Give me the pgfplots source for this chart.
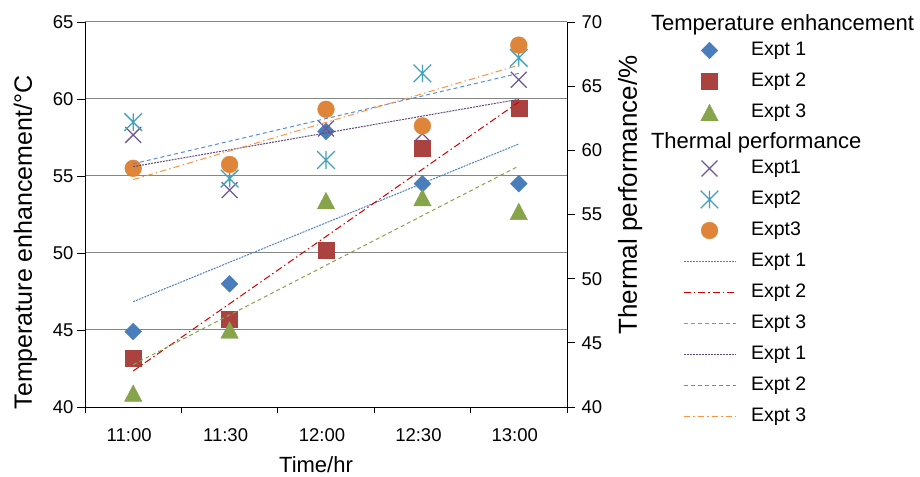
\documentclass[border=0pt]{standalone}
\usepackage{pgfplots}
\pgfplotsset{compat=1.18}
\usepackage{fontspec}
\setmainfont{Liberation Sans}

% Excel 2007 style palette
\definecolor{cdia}{RGB}{74,126,187}
\definecolor{csq}{RGB}{170,66,63}
\definecolor{ctri}{RGB}{134,164,74}
\definecolor{cx}{RGB}{112,88,148}
\definecolor{cstar}{RGB}{66,160,186}
\definecolor{ccirc}{RGB}{222,133,58}
\definecolor{ltblue}{RGB}{79,129,189}
\definecolor{ltred}{RGB}{204,0,0}
\definecolor{ltgreen}{RGB}{134,164,74}
\definecolor{ltpurple}{RGB}{96,74,123}
\definecolor{ltblue2}{RGB}{85,142,213}
\definecolor{ltorange}{RGB}{247,150,70}
\definecolor{gridgray}{RGB}{134,134,134}

% Excel-like markers
\pgfdeclareplotmark{xdiamond}{%
  \pgfpathmoveto{\pgfqpoint{0pt}{\pgfplotmarksize}}%
  \pgfpathlineto{\pgfqpoint{\pgfplotmarksize}{0pt}}%
  \pgfpathlineto{\pgfqpoint{0pt}{-\pgfplotmarksize}}%
  \pgfpathlineto{\pgfqpoint{-\pgfplotmarksize}{0pt}}%
  \pgfpathclose\pgfusepathqfillstroke}
\pgfdeclareplotmark{xtri}{%
  \pgfpathmoveto{\pgfqpoint{0pt}{.95\pgfplotmarksize}}%
  \pgfpathlineto{\pgfqpoint{\pgfplotmarksize}{-.95\pgfplotmarksize}}%
  \pgfpathlineto{\pgfqpoint{-\pgfplotmarksize}{-.95\pgfplotmarksize}}%
  \pgfpathclose\pgfusepathqfillstroke}
\pgfdeclareplotmark{xstar}{%
  \pgfpathmoveto{\pgfqpoint{0pt}{\pgfplotmarksize}}%
  \pgfpathlineto{\pgfqpoint{0pt}{-\pgfplotmarksize}}%
  \pgfpathmoveto{\pgfqpoint{-\pgfplotmarksize}{\pgfplotmarksize}}%
  \pgfpathlineto{\pgfqpoint{\pgfplotmarksize}{-\pgfplotmarksize}}%
  \pgfpathmoveto{\pgfqpoint{-\pgfplotmarksize}{-\pgfplotmarksize}}%
  \pgfpathlineto{\pgfqpoint{\pgfplotmarksize}{\pgfplotmarksize}}%
  \pgfusepathqstroke}

\pgfplotsset{
  mdia/.style={only marks, mark=xdiamond, mark size=8.4bp, color=cdia},
  msq/.style={only marks, mark=square*, mark size=8bp, color=csq},
  mtri/.style={only marks, mark=xtri, mark size=8.7bp, color=ctri},
  mx/.style={only marks, mark=x, mark size=11.2bp, color=cx, mark options={line width=1.3bp}},
  mstar/.style={only marks, mark=xstar, mark size=8.8bp, color=cstar, mark options={line width=1.3bp}},
  mcirc/.style={only marks, mark=*, mark size=8.4bp, color=ccirc},
  tr1/.style={no marks, color=ltblue, line width=1bp, dash pattern=on 2bp off 1bp},
  tr2/.style={no marks, color=ltred, line width=1bp, dash pattern=on 7bp off 3bp on 1.5bp off 3bp},
  tr3/.style={no marks, color=ltgreen, line width=1bp, dash pattern=on 4bp off 3bp},
  tr4/.style={no marks, color=ltpurple, line width=1bp, dash pattern=on 2bp off 1bp},
  tr5/.style={no marks, color=ltblue2, line width=1bp, dash pattern=on 4bp off 3bp},
  tr6/.style={no marks, color=ltorange, line width=1bp, dash pattern=on 6.5bp off 3bp on 1.5bp off 3bp},
  common/.style={
    set layers, scale only axis, width=482bp, height=385bp,
    xmin=-0.5, xmax=4.5,
    tick align=outside, major tick length=8bp, minor tick length=6bp,
    tick style={black, line width=0.8bp},
    axis line style={black, line width=1bp},
    tick label style={font=\fontsize{18.5bp}{20bp}\selectfont},
    /pgf/number format/assume math mode=true,
    clip=false,
  },
}

\begin{document}
\begin{tikzpicture}
% primary axis: temperature enhancement
\begin{axis}[common,
  ymin=40, ymax=65, ytick={40,45,...,65},
  axis x line*=bottom, axis y line*=left,
  xtick={0,...,4}, xticklabels={11:00,11:30,12:00,12:30,13:00},
  xticklabel style={xshift=-4bp, yshift=-10bp},
  major x tick style={draw=none},
  minor xtick={-0.5,0.5,...,4.5},
  ymajorgrids, grid style={gridgray, line width=1bp},
  every axis x label/.style={at={(axis description cs:0,0)}, anchor=center, inner sep=0pt,
    xshift=231bp, yshift=-58bp, font=\fontsize{22bp}{24bp}\selectfont},
  every axis y label/.style={at={(axis description cs:0,0)}, anchor=center, inner sep=0pt,
    xshift=-59.5bp, yshift=164.5bp, rotate=90, font=\fontsize{25bp}{28bp}\selectfont},
  xlabel={Time/hr},
  ylabel={Temperature enhancement/°C},
]
\addplot[mdia] coordinates {(0,44.9) (1,48.0) (2,57.9) (3,54.5) (4,54.5)};
\addplot[msq] coordinates {(0,43.2) (1,45.7) (2,50.2) (3,56.8) (4,59.4)};
\addplot[mtri] coordinates {(0,40.9) (1,45.0) (2,53.4) (3,53.6) (4,52.7)};
\addplot[tr1, on layer=axis foreground] coordinates {(0,46.84) (4,57.08)};
\addplot[tr2, on layer=axis foreground] coordinates {(0,42.34) (4,59.80)};
\addplot[tr3, on layer=axis foreground] coordinates {(0,42.75) (4,55.65)};
\end{axis}

% secondary axis: thermal performance
\begin{axis}[common,
  ymin=40, ymax=70, ytick={40,45,...,70},
  axis x line=none, axis y line*=right,
  yticklabel style={xshift=3bp},
  every axis y label/.style={at={(axis description cs:1,0)}, anchor=center, inner sep=0pt,
    xshift=63.2bp, yshift=212bp, rotate=90, font=\fontsize{26bp}{28bp}\selectfont},
  ylabel={Thermal performance/\%},
  legend cell align=left,
  legend image code/.code={\draw[mark repeat=2, mark phase=2, #1] plot coordinates {(0bp,0bp) (26bp,0bp) (52bp,0bp)};},
  legend style={at={(axis description cs:0,0)}, anchor=north west,
    xshift=598bp, yshift=392bp, draw=none, fill=none,
    inner sep=0pt, outer sep=0pt, row sep=10bp, column sep=15bp,
    font=\fontsize{19.5bp}{22bp}\selectfont,
    nodes={inner sep=0pt, text height=15bp, text depth=6bp}},
]
\addlegendimage{empty legend}
\addlegendentry[font=\fontsize{22bp}{24bp}\selectfont, text depth=0bp]{\hspace*{-100bp}Temperature enhancement}
\addlegendimage{mdia}\addlegendentry{Expt 1}
\addlegendimage{msq}\addlegendentry{Expt 2}
\addlegendimage{mtri}\addlegendentry{Expt 3}
\addlegendimage{empty legend}
\addlegendentry[font=\fontsize{22bp}{24bp}\selectfont, text depth=0bp]{\hspace*{-100bp}Thermal performance}
\addlegendimage{mx}\addlegendentry{Expt1}
\addlegendimage{mstar}\addlegendentry{Expt2}
\addlegendimage{mcirc}\addlegendentry{Expt3}
\addlegendimage{tr1}\addlegendentry{Expt 1}
\addlegendimage{tr2}\addlegendentry{Expt 2}
\addlegendimage{tr3}\addlegendentry{Expt 3}
\addlegendimage{tr4}\addlegendentry{Expt 1}
\addlegendimage{tr5}\addlegendentry{Expt 2}
\addlegendimage{tr6}\addlegendentry{Expt 3}

\addplot[mx, forget plot] coordinates {(0,61.2) (1,56.9) (2,61.7) (3,61.3) (4,65.5)};
\addplot[mstar, forget plot] coordinates {(0,62.2) (1,57.8) (2,59.25) (3,66.0) (4,67.2)};
\addplot[mcirc, forget plot] coordinates {(0,58.6) (1,58.9) (2,63.2) (3,61.9) (4,68.2)};
\addplot[tr4, on layer=axis foreground, forget plot] coordinates {(0,58.73) (4,63.98)};
\addplot[tr5, on layer=axis foreground, forget plot] coordinates {(0,58.95) (4,66.00)};
\addplot[tr6, on layer=axis foreground, forget plot] coordinates {(0,57.72) (4,66.64)};
\end{axis}
\pgfresetboundingbox
\path[use as bounding box] (-85bp,-70bp) rectangle (835bp,407bp);
\end{tikzpicture}
\end{document}
